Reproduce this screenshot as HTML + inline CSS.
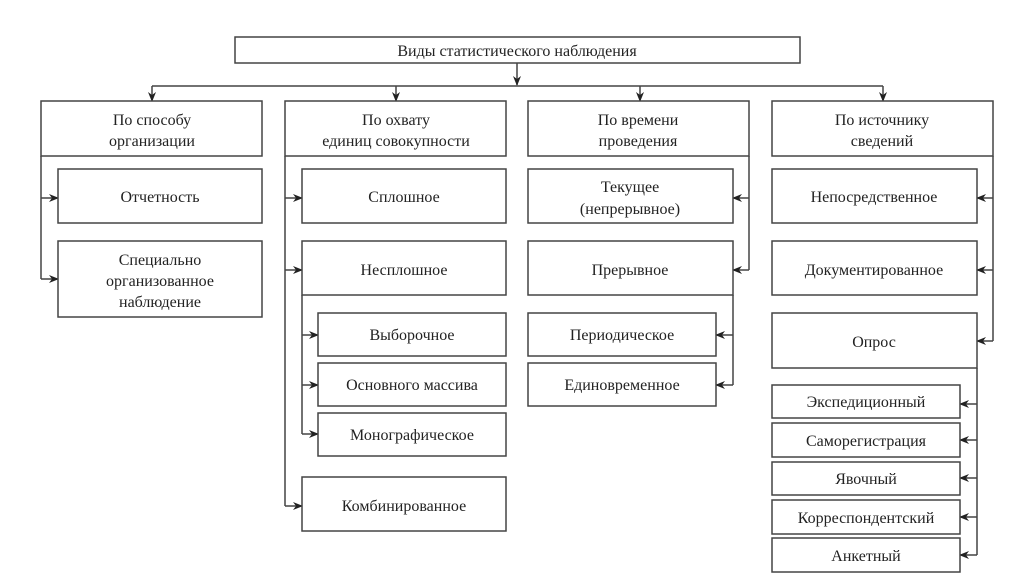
<!DOCTYPE html>
<html><head><meta charset="utf-8"><style>
html,body{margin:0;padding:0;background:#fff;}
svg{display:block;}
text{font-family:"Liberation Serif",serif;font-size:16px;fill:#222;text-anchor:middle;}
.b{fill:#fff;stroke:#444;stroke-width:1.5;}
.l{fill:none;stroke:#444;stroke-width:1.5;}
</style></head><body>
<svg width="1026" height="579" viewBox="0 0 1026 579" xmlns="http://www.w3.org/2000/svg">
<defs>
<marker id="a" markerWidth="10" markerHeight="8" refX="9" refY="4" orient="auto" markerUnits="userSpaceOnUse">
<path d="M0,0 L10,4 L0,8 L3,4 Z" fill="#222"/></marker>
</defs>
<!-- top -->
<rect class="b" x="235" y="37" width="565" height="26"/>
<text x="517" y="56">Виды статистического наблюдения</text>
<path class="l" d="M517,63 V85" marker-end="url(#a)"/>
<path class="l" d="M152,86 H883"/>
<path class="l" d="M152,86 V101" marker-end="url(#a)"/>
<path class="l" d="M396,86 V101" marker-end="url(#a)"/>
<path class="l" d="M640,86 V101" marker-end="url(#a)"/>
<path class="l" d="M883,86 V101" marker-end="url(#a)"/>

<!-- col1 -->
<rect class="b" x="41" y="101" width="221" height="55"/>
<text x="152" y="125">По способу</text><text x="152" y="146">организации</text>
<path class="l" d="M41,156 V279"/>
<path class="l" d="M41,198 H58" marker-end="url(#a)"/>
<path class="l" d="M41,279 H58" marker-end="url(#a)"/>
<rect class="b" x="58" y="169" width="204" height="54"/>
<text x="160" y="202">Отчетность</text>
<rect class="b" x="58" y="241" width="204" height="76"/>
<text x="160" y="265">Специально</text><text x="160" y="286">организованное</text><text x="160" y="307">наблюдение</text>

<!-- col2 -->
<rect class="b" x="285" y="101" width="221" height="55"/>
<text x="396" y="125">По охвату</text><text x="396" y="146">единиц совокупности</text>
<path class="l" d="M285,156 V506"/>
<path class="l" d="M285,198 H302" marker-end="url(#a)"/>
<path class="l" d="M285,270 H302" marker-end="url(#a)"/>
<path class="l" d="M285,506 H302" marker-end="url(#a)"/>
<rect class="b" x="302" y="169" width="204" height="54"/>
<text x="404" y="202">Сплошное</text>
<rect class="b" x="302" y="241" width="204" height="54"/>
<text x="404" y="275">Несплошное</text>
<path class="l" d="M302,295 V434"/>
<path class="l" d="M302,335 H318" marker-end="url(#a)"/>
<path class="l" d="M302,385 H318" marker-end="url(#a)"/>
<path class="l" d="M302,434 H318" marker-end="url(#a)"/>
<rect class="b" x="318" y="313" width="188" height="43"/>
<text x="412" y="340">Выборочное</text>
<rect class="b" x="318" y="363" width="188" height="43"/>
<text x="412" y="390">Основного массива</text>
<rect class="b" x="318" y="413" width="188" height="43"/>
<text x="412" y="440">Монографическое</text>
<rect class="b" x="302" y="477" width="204" height="54"/>
<text x="404" y="511">Комбинированное</text>

<!-- col3 -->
<rect class="b" x="528" y="101" width="221" height="55"/>
<text x="638" y="125">По времени</text><text x="638" y="146">проведения</text>
<path class="l" d="M749,156 V270"/>
<path class="l" d="M749,198 H733" marker-end="url(#a)"/>
<path class="l" d="M749,270 H733" marker-end="url(#a)"/>
<rect class="b" x="528" y="169" width="205" height="54"/>
<text x="630" y="192">Текущее</text><text x="630" y="214">(непрерывное)</text>
<rect class="b" x="528" y="241" width="205" height="54"/>
<text x="630" y="275">Прерывное</text>
<path class="l" d="M733,295 V385"/>
<path class="l" d="M733,335 H716" marker-end="url(#a)"/>
<path class="l" d="M733,385 H716" marker-end="url(#a)"/>
<rect class="b" x="528" y="313" width="188" height="43"/>
<text x="622" y="340">Периодическое</text>
<rect class="b" x="528" y="363" width="188" height="43"/>
<text x="622" y="390">Единовременное</text>

<!-- col4 -->
<rect class="b" x="772" y="101" width="221" height="55"/>
<text x="882" y="125">По источнику</text><text x="882" y="146">сведений</text>
<path class="l" d="M993,156 V341"/>
<path class="l" d="M993,198 H977" marker-end="url(#a)"/>
<path class="l" d="M993,270 H977" marker-end="url(#a)"/>
<path class="l" d="M993,341 H977" marker-end="url(#a)"/>
<rect class="b" x="772" y="169" width="205" height="54"/>
<text x="874" y="202">Непосредственное</text>
<rect class="b" x="772" y="241" width="205" height="54"/>
<text x="874" y="275">Документированное</text>
<rect class="b" x="772" y="313" width="205" height="55"/>
<text x="874" y="347">Опрос</text>
<path class="l" d="M977,368 V555"/>
<path class="l" d="M977,404 H960" marker-end="url(#a)"/>
<path class="l" d="M977,440 H960" marker-end="url(#a)"/>
<path class="l" d="M977,478 H960" marker-end="url(#a)"/>
<path class="l" d="M977,517 H960" marker-end="url(#a)"/>
<path class="l" d="M977,555 H960" marker-end="url(#a)"/>
<rect class="b" x="772" y="385" width="188" height="33"/>
<text x="866" y="407">Экспедиционный</text>
<rect class="b" x="772" y="423" width="188" height="34"/>
<text x="866" y="446">Саморегистрация</text>
<rect class="b" x="772" y="462" width="188" height="33"/>
<text x="866" y="484">Явочный</text>
<rect class="b" x="772" y="500" width="188" height="34"/>
<text x="866" y="523">Корреспондентский</text>
<rect class="b" x="772" y="538" width="188" height="34"/>
<text x="866" y="561">Анкетный</text>
</svg>
</body></html>
